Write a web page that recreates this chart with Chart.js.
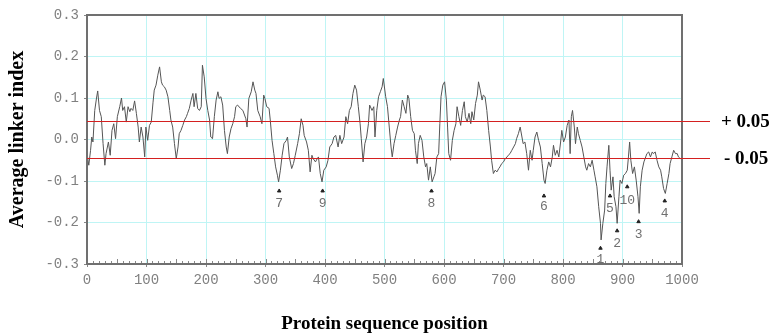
<!DOCTYPE html>
<html>
<head>
<meta charset="utf-8">
<script src="https://cdn.jsdelivr.net/npm/chart.js@4.4.1/dist/chart.umd.min.js"></script>
<style>
  html, body { margin: 0; padding: 0; background: #fff; }
</style>
</head>
<body>
<canvas id="linker-chart" width="770" height="335"></canvas>
<script>
// sequence positions and average linker index
const positions = [
    0, 3, 6, 8, 10, 13, 16, 18, 21, 24, 27, 30, 32, 36, 39, 42, 45, 48, 51, 55,
    58, 60, 63, 66, 69, 72, 74, 77, 80, 83, 86, 88, 91, 94, 97, 99, 102, 105, 108, 111,
    113, 116, 119, 122, 125, 127, 130, 133, 136, 139, 141, 144, 147, 150, 153, 155, 158, 161, 164, 167,
    169, 172, 175, 178, 180, 183, 186, 189, 192, 194, 197, 200, 203, 206, 208, 211, 214, 217, 220, 222,
    225, 228, 231, 234, 236, 239, 242, 245, 248, 250, 253,
    258, 262, 267, 269, 272, 276, 279, 282, 284, 287, 291, 294, 297, 299, 302, 306, 308, 311, 314, 317,
    320, 322, 325, 328, 331, 335, 337, 340, 344, 347, 350, 354, 357, 360, 363, 365, 369, 372, 375, 378,
    380, 384, 387, 389, 392, 395, 398, 402, 405, 408, 412, 415, 418, 422, 425, 428, 432, 435, 438, 441,
    444, 447, 450, 453, 456, 459, 461, 464, 467, 470, 473, 475, 479, 482, 484, 487, 490, 493, 496, 498,
    502, 505, 508, 511, 513, 516, 519, 522, 525, 527, 530, 533, 536, 539, 541, 544, 547, 550, 552, 555,
    557, 560, 563, 566, 569, 571, 574, 577, 580, 583, 585, 588, 591, 593, 595, 598, 601, 604, 606, 608,
    611, 614, 617, 620, 622, 625, 628, 631, 634, 636, 639, 642, 645, 647, 650, 653, 656, 658, 661, 664,
    666, 669, 672, 675, 678, 680, 683, 686, 689, 692, 694, 697, 700, 703, 706, 708, 711, 714, 717, 720,
    722, 725, 728, 731, 733, 736, 739, 742, 745, 748, 750, 753, 756, 759,
    762, 765, 768, 770, 773, 776, 779, 782, 784, 787, 790, 793, 796, 798, 801, 804, 807, 810, 812, 814,
    816, 819, 821, 824, 826, 829, 832, 835, 838, 840, 843, 846, 849, 852, 854, 857, 860, 863, 864, 867,
    870, 872, 874, 877, 879, 881, 884, 886, 889, 891, 894, 896, 899, 902, 905, 908, 910, 912, 914, 917,
    920, 923, 926, 928, 930, 933, 936, 938, 941, 944, 947, 950, 952, 955, 958, 961, 964, 966, 969, 972,
    975, 978, 980, 983, 986, 989, 992, 994, 997
];
const linkerIndex = [
    -0.034, -0.062, -0.026, 0.006, -0.006, 0.070, 0.100, 0.117, 0.070, 0.055, -0.010, -0.062, -0.034, -0.006, -0.038, 0.022, 0.038, 0.002, 0.055, 0.079,
    0.100, 0.070, 0.079, 0.042, 0.079, 0.067, 0.075, 0.070, 0.093, 0.063, 0.030, -0.006, 0.030, 0.006, -0.042, 0.030, -0.002, 0.034, 0.042, 0.090,
    0.119, 0.131, 0.155, 0.175, 0.139, 0.131, 0.127, 0.119, 0.103, 0.070, 0.047, 0.030, -0.010, -0.046, -0.018, 0.014, 0.022, 0.034, 0.047, 0.055,
    0.063, 0.075, 0.095, 0.111, 0.079, 0.111, 0.075, 0.070, 0.079, 0.179, 0.151, 0.099, 0.070, 0.047, 0.006, 0.002, 0.055, 0.095, 0.115, 0.099,
    0.103, 0.083, 0.022, -0.018, -0.034, 0.006, 0.026, 0.038, 0.055, 0.079, 0.083,
    0.075, 0.070, 0.050, 0.030, 0.099, 0.115, 0.139, 0.119, 0.111, 0.070, 0.055, 0.038, 0.107, 0.099, 0.079, 0.075, 0.047, -0.002, -0.034, -0.066,
    -0.086, -0.102, -0.074, -0.038, -0.010, -0.002, 0.006, -0.042, -0.070, -0.058, -0.038, -0.010, 0.014, 0.050, 0.034, 0.010, -0.006, -0.026, -0.078, -0.038,
    -0.046, -0.054, -0.046, -0.042, -0.082, -0.102, -0.074, -0.066, -0.050, -0.018, -0.010, 0.006, 0.010, -0.018, 0.010, -0.010, 0.006, 0.055, 0.038, 0.070,
    0.079, 0.111, 0.131, 0.119, 0.079, 0.038, 0.002, -0.054, -0.010, 0.006, 0.038, 0.083, 0.070, 0.079, 0.006, 0.070, 0.103, 0.115, 0.127, 0.147,
    0.103, 0.079, 0.030, -0.018, -0.042, -0.010, 0.010, 0.030, 0.047, 0.055, 0.095, 0.079, 0.063, 0.107, 0.099, 0.055, 0.022, 0.014, -0.026, -0.058,
    -0.010, 0.010, -0.002, -0.042, -0.066, -0.058, -0.098, -0.066, -0.102, -0.090, -0.082, -0.042, -0.034, 0.038, 0.103, 0.131, 0.139, 0.095, 0.030, -0.034,
    -0.050, -0.002, 0.022, 0.038, 0.079, 0.055, 0.034, 0.070, 0.091, 0.055, 0.042, 0.063, 0.038, 0.067, 0.047, 0.087, 0.107, 0.139, 0.119, 0.095,
    0.107, 0.103, 0.070, 0.022, -0.018, -0.050, -0.082, -0.074, -0.078, -0.070, -0.066, -0.058, -0.054, -0.046, -0.042, -0.038, -0.034, -0.026, -0.018, -0.010,
    0.002, 0.014, 0.030, 0.006, -0.010, -0.006, -0.034, -0.074, -0.026, -0.050, -0.026, 0.006, 0.018, -0.002,
    -0.018, -0.058, -0.098, -0.106, -0.074, -0.054, -0.066, -0.042, -0.014, -0.038, -0.026, -0.042, -0.006, 0.022, -0.006, 0.006, 0.034, 0.047, -0.034, 0.055,
    0.070, 0.030, -0.010, 0.030, 0.014, -0.002, -0.018, -0.042, -0.066, -0.074, -0.058, -0.066, -0.050, -0.074, -0.090, -0.114, -0.162, -0.202, -0.242, -0.202,
    -0.170, -0.106, -0.066, -0.014, -0.074, -0.122, -0.090, -0.138, -0.162, -0.202, -0.138, -0.098, -0.106, -0.086, -0.082, -0.074, -0.042, -0.006, -0.050, -0.082,
    -0.066, -0.098, -0.138, -0.178, -0.114, -0.074, -0.054, -0.046, -0.034, -0.030, -0.042, -0.030, -0.034, -0.030, -0.050, -0.066, -0.074, -0.090, -0.118, -0.130,
    -0.106, -0.082, -0.058, -0.042, -0.026, -0.034, -0.034, -0.042, -0.046
];

// numbered minima
const peakLabels = ['7', '9', '8', '6', '1', '5', '2', '10', '3', '4'];
const peakPositions = [323, 396, 579, 768, 863, 879, 891, 908, 927, 971];
const peakMarkY = [-0.124, -0.124, -0.124, -0.136, -0.262, -0.136, -0.220, -0.114, -0.198, -0.148];
const peakLabelY = [-0.154, -0.154, -0.154, -0.162, -0.290, -0.166, -0.250, -0.146, -0.230, -0.178];

// cut-off lines
const thresholds = [0.044, -0.044];
const thresholdLabels = ['+ 0.05', '- 0.05'];

const tickFont = { family: '"Liberation Mono", monospace', size: 14 };
const titleFont = { family: '"Liberation Serif", serif', size: 19, weight: 'bold' };

const extras = {
    id: 'extras',
    afterDatasetsDraw(chart) {
        const { ctx, chartArea: a, scales: { x, y } } = chart;
        ctx.save();

        // small inner ticks along the bottom axis
        ctx.strokeStyle = '#888';
        ctx.lineWidth = 1;
        for (let v = 10; v < 1000; v += 10) {
            const px = Math.round(x.getPixelForValue(v)) + 0.5;
            const len = v % 50 === 0 ? 5 : 3;
            ctx.beginPath();
            ctx.moveTo(px, a.bottom);
            ctx.lineTo(px, a.bottom - len);
            ctx.stroke();
        }

        // frame
        ctx.strokeStyle = '#707070';
        ctx.lineWidth = 2;
        ctx.strokeRect(a.left, a.top, a.right - a.left, a.bottom - a.top);

        // threshold lines with labels
        ctx.strokeStyle = '#d42020';
        ctx.lineWidth = 1;
        ctx.font = 'bold 19px "Liberation Serif"';
        ctx.fillStyle = '#000';
        ctx.textBaseline = 'middle';
        thresholds.forEach((t, i) => {
            const py = Math.round(y.getPixelForValue(t)) + 0.5;
            ctx.beginPath();
            ctx.moveTo(a.left, py);
            ctx.lineTo(710, py);
            ctx.stroke();
            ctx.fillText(thresholdLabels[i], i === 0 ? 721 : 724, py + 1);
        });

        // peak numbers
        ctx.font = '13px "Liberation Mono"';
        ctx.fillStyle = '#707070';
        ctx.textAlign = 'center';
        peakLabels.forEach((lbl, i) => {
            ctx.fillText(lbl, x.getPixelForValue(peakPositions[i]), y.getPixelForValue(peakLabelY[i]));
        });

        ctx.restore();
    }
};

new Chart(document.getElementById('linker-chart'), {
    type: 'line',
    data: {
        datasets: [{
            label: 'Average linker index',
            data: positions.map((p, i) => ({ x: p, y: linkerIndex[i] })),
            borderColor: '#555',
            borderWidth: 1,
            pointRadius: 0,
            tension: 0
        }, {
            type: 'scatter',
            label: 'Minima',
            data: peakPositions.map((p, i) => ({ x: p, y: peakMarkY[i] })),
            pointStyle: 'triangle',
            pointRadius: 2,
            backgroundColor: '#222',
            borderColor: '#222',
            borderWidth: 1
        }]
    },
    options: {
        responsive: false,
        animation: false,
        layout: { padding: { left: 0, right: 88, top: 15, bottom: 0 } },
        plugins: {
            legend: { display: false },
            tooltip: { enabled: false }
        },
        scales: {
            x: {
                type: 'linear',
                min: 0,
                max: 1000,
                border: { display: false },
                grid: { color: '#bff5f5', tickColor: '#888', tickLength: 3 },
                ticks: {
                    stepSize: 100,
                    font: tickFont,
                    color: '#808080',
                    padding: 5,
                    maxRotation: 0,
                    callback: v => String(v)
                },
                title: { display: true, text: 'Protein sequence position', font: titleFont, color: '#000', padding: { top: 0, bottom: 0 } },
                afterFit: s => { s.height = 71; }
            },
            y: {
                min: -0.3,
                max: 0.3,
                border: { display: false },
                grid: { color: '#bff5f5', tickColor: '#888', tickLength: 3 },
                ticks: {
                    stepSize: 0.1,
                    font: tickFont,
                    color: '#808080',
                    padding: 5,
                    callback: v => (Math.abs(v) < 1e-9 ? 0 : v).toFixed(1)
                },
                title: { display: true, text: 'Average linker index', font: { ...titleFont, size: 20 }, color: '#000', padding: { top: 6, bottom: 0 } },
                afterFit: s => { s.width = 87; }
            }
        }
    },
    plugins: [extras]
});
</script>
</body>
</html>
